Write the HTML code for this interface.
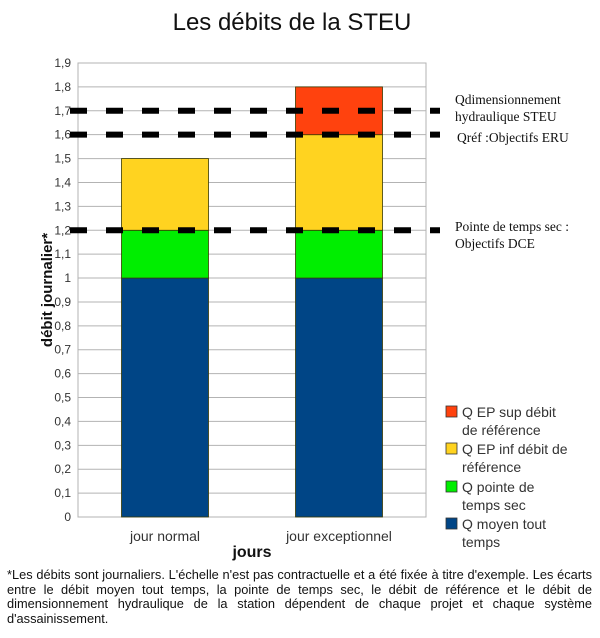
<!DOCTYPE html>
<html><head><meta charset="utf-8"><style>
body{margin:0;background:#fff;width:600px;height:638px;overflow:hidden;font-family:"Liberation Sans",sans-serif}
#foot{position:absolute;left:7px;top:568px;width:585px;font-size:12.8px;line-height:14.6px;text-align:justify;color:#111;text-align-last:left}
</style></head><body>
<svg id="chart" width="600" height="638" style="position:absolute;left:0;top:0" xmlns="http://www.w3.org/2000/svg"></svg>
<div id="foot">*Les débits sont journaliers. L'échelle n'est pas contractuelle et a été fixée à titre d'exemple. Les écarts entre le débit moyen tout temps, la pointe de temps sec, le débit de référence et le débit de dimensionnement hydraulique de la station dépendent de chaque projet et chaque système d'assainissement.</div>
<script>
const categories=["jour normal","jour exceptionnel"];
const seriesNames=["Q moyen tout temps","Q pointe de temps sec","Q EP inf débit de référence","Q EP sup débit de référence"];
const qMoyen=[1.0,1.0];
const qPointe=[0.2,0.2];
const qEPinf=[0.3,0.4];
const qEPsup=[0,0.2];
const refLines=[1.7,1.6,1.2];
const yTicks=["0","0,1","0,2","0,3","0,4","0,5","0,6","0,7","0,8","0,9","1","1,1","1,2","1,3","1,4","1,5","1,6","1,7","1,8","1,9"];
const colors=["#004586","#00ee00","#ffd320","#ff420e"];
const svg=document.getElementById('chart');const NS="http://www.w3.org/2000/svg";
const X0=78,X1=426,Y0=517,YT=63,YMAX=1.9;
const y=v=>Y0-(v/YMAX)*(Y0-YT);
const bandW=(X1-X0)/categories.length;
const xc=i=>X0+bandW*(i+0.5);
function mk(t,a,txt){const e=document.createElementNS(NS,t);for(const k in a)e.setAttribute(k,a[k]);if(txt!==undefined)e.textContent=txt;svg.appendChild(e);return e;}
let e=mk('text',{x:292,y:30,'font-size':24,'text-anchor':'middle',fill:'#111'},'Les débits de la STEU');


yTicks.forEach((t,i)=>{const v=i/10;
 let g=mk('line',{x1:X0,x2:X1,y1:y(v),y2:y(v),stroke:'#b3b3b3','stroke-width':1});
 
 
 let l=mk('text',{x:71,y:y(v)+4,'font-size':12,'text-anchor':'end',fill:'#333'},t);
 
 
});
e=mk('rect',{x:X0,y:YT,width:X1-X0,height:Y0-YT,fill:'none',stroke:'#b3b3b3'});


const stacks=[qMoyen,qPointe,qEPinf,qEPsup];
const bw=bandW/2;
categories.forEach((c,i)=>{let base=0;
 stacks.forEach((s,k)=>{const v=s[i];if(v>0){
  const r=mk('rect',{x:xc(i)-bw/2,y:y(base+v),width:bw,height:y(base)-y(base+v),fill:colors[k],stroke:'#3a3a00','stroke-width':0.8});
  
  
 }base+=v;});
 const t=mk('text',{x:xc(i),y:541,'font-size':14,'text-anchor':'middle',fill:'#333'},c);
 
 
});
refLines.forEach(v=>{const l=mk('line',{x1:70,x2:440,y1:y(v),y2:y(v),stroke:'#000','stroke-width':6,'stroke-dasharray':'17 19'});
 
 });
e=mk('text',{x:252,y:557,'font-size':16,'font-weight':'bold','text-anchor':'middle',fill:'#111'},'jours');


e=mk('text',{x:0,y:0,'font-size':15,'font-weight':'bold','text-anchor':'middle',fill:'#111',transform:'translate(52,290) rotate(-90)'},'débit journalier*');


const ann=[[455,104,'Qdimensionnement'],[455,121,'hydraulique STEU'],[457,142,'Qréf :Objectifs ERU'],[455,231,'Pointe  de temps sec :'],[455,248,'Objectifs DCE']];
ann.forEach(a=>{const t=mk('text',{x:a[0],y:a[1],'font-size':13.5,'font-family':'Liberation Serif,serif',fill:'#111'},a[2]);
 
 });
const leg=[[3,['Q EP sup débit','de référence'],412],[2,['Q EP inf débit de','référence'],449],[1,['Q pointe de','temps sec'],487],[0,['Q moyen tout','temps'],524]];
leg.forEach(L=>{const s=mk('rect',{x:446,y:L[2]-6,width:11,height:11,fill:colors[L[0]],stroke:'#333','stroke-width':0.8});
 
 
 L[1].forEach((ln,j)=>{const t=mk('text',{x:462,y:L[2]+5+j*18,'font-size':14,fill:'#333'},ln);
  
  });
});
</script>
</body></html>
